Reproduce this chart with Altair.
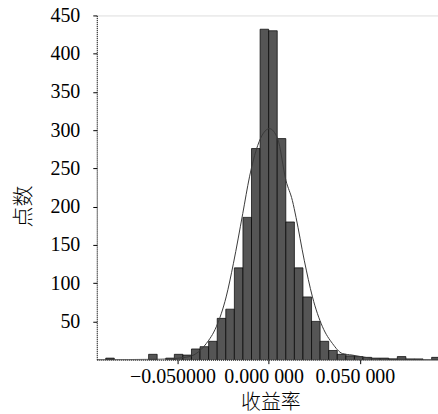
import altair as alt
import pandas as pd

# Histogram bins (left edge of each bin) and counts
bin_start = [-0.0940, -0.0893, -0.0846, -0.0799, -0.0752, -0.0705, -0.0658, -0.0611,
             -0.0564, -0.0517, -0.0470, -0.0423, -0.0376, -0.0329, -0.0282, -0.0235,
             -0.0188, -0.0141, -0.0094, -0.0047, 0.0000, 0.0047, 0.0094, 0.0141,
             0.0188, 0.0235, 0.0282, 0.0329, 0.0376, 0.0423, 0.0470, 0.0517,
             0.0564, 0.0611, 0.0658, 0.0705, 0.0752, 0.0799, 0.0846, 0.0893]
bin_count = [0, 2, 0, 0, 0, 0, 7, 0,
             2, 7, 6, 14, 17, 24, 54, 66,
             120, 186, 276, 432, 430, 289, 180, 120,
             82, 50, 24, 12, 7, 5, 4, 3,
             2, 2, 1, 4, 1, 1, 0, 3]
bin_width = 0.0047

# Fitted curve points
curve_x = [-0.0940, -0.0600, -0.0450, -0.0397, -0.0342, -0.0287, -0.0233, -0.0193,
           -0.0142, -0.0105, -0.0060, 0.0004, 0.0049, 0.0095, 0.0130, 0.0150,
           0.0195, 0.0240, 0.0295, 0.0350, 0.0404, 0.0457, 0.0512, 0.0600, 0.0928]
curve_y = [0, 0.5, 3.3, 8, 21, 43, 82, 126,
           191, 239, 280, 302, 289, 234, 208, 186,
           130, 82, 43, 21, 8, 6, 3.7, 1, 0]

x_ticks = [-0.05, 0.0, 0.05]
x_tick_labels = ["\u22120.050000", "0.000 000", "0.050 000"]
y_ticks = [50, 100, 150, 200, 250, 300, 350, 400, 450]

x_title = "收益率"
y_title = "点数"

SERIF = "Liberation Serif"
CJK = "Noto Sans CJK SC"

bars_df = pd.DataFrame({"start": bin_start, "count": bin_count})
bars_df["end"] = bars_df["start"] + bin_width
bars_df = bars_df[bars_df["count"] > 0]
curve_df = pd.DataFrame({"x": curve_x, "y": curve_y})

label_expr = (f"datum.value < -0.01 ? '{x_tick_labels[0]}' : "
              f"(datum.value > 0.01 ? '{x_tick_labels[2]}' : '{x_tick_labels[1]}')")

x_scale = alt.Scale(domain=[-0.0942, 0.0928], nice=False, zero=False)
y_scale = alt.Scale(domain=[0, 450], nice=False)

x_axis = alt.Axis(values=x_ticks, labelExpr=label_expr, title=x_title,
                  grid=False, tickSize=4, labelPadding=3, labelOffset=-5,
                  labelFontSize=20, labelFont=SERIF, labelFontWeight="normal",
                  labelColor="black",
                  titleFontSize=20, titleFont=CJK, titleFontWeight=300,
                  titleColor="black", titleX=174, titleY=43, titleBaseline="middle",
                  titleAlign="center", domainDash=[1, 1], domainColor="black",
                  tickColor="black", labelFlush=False, labelOverlap=False)
y_axis = alt.Axis(values=y_ticks, title=y_title, grid=False, tickSize=4,
                  labelPadding=13, labelFontSize=20, labelFont=SERIF,
                  labelFontWeight="normal",
                  labelColor="black", titleFontSize=21, titleFont=CJK,
                  titleFontWeight=300, titleColor="black", titleAngle=270,
                  titleX=-73, titleY=191, titleAlign="center", titleBaseline="middle",
                  domainDash=[1, 1], domainColor="black", tickColor="black",
                  labelFlush=False, labelOverlap=False)

bars = alt.Chart(bars_df).mark_rect(fill="#555555", stroke="black", strokeWidth=0.7,
                                     clip=True).encode(
    x=alt.X("start:Q", scale=x_scale, axis=x_axis),
    x2="end:Q",
    y=alt.Y("count:Q", scale=y_scale, axis=y_axis),
    y2=alt.datum(0),
)

curve = alt.Chart(curve_df).mark_line(color="#3a3a3a", strokeWidth=1,
                                      interpolate="monotone", clip=True).encode(
    x=alt.X("x:Q", scale=x_scale),
    y=alt.Y("y:Q", scale=y_scale),
)

chart = alt.layer(bars, curve).properties(
    width=342, height=345,
    autosize=alt.AutoSizeParams(type="none"),
    padding={"left": 97, "top": 15, "right": 0, "bottom": 54},
    background="white",
).configure_view(stroke="black", strokeDash=[1, 1], strokeWidth=1
).configure(font=SERIF)

chart.save("out.html", embed_options={"renderer": "svg", "actions": False})
